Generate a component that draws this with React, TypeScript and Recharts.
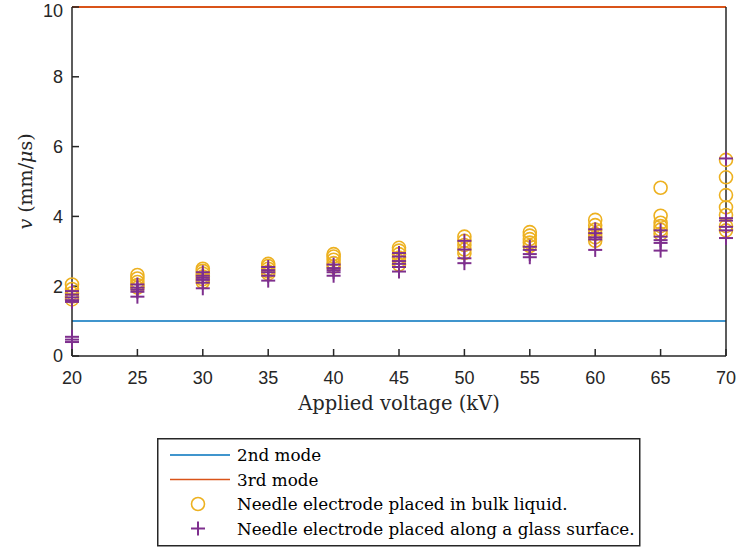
import {
  ComposedChart,
  Scatter,
  XAxis,
  YAxis,
  ReferenceLine,
  Legend,
  Label,
} from 'recharts'

// streamer velocity (mm/us) recorded at each applied voltage (kV)
const voltages = [20, 25, 30, 35, 40, 45, 50, 55, 60, 65, 70]

const bulkLiquid: number[][] = [
  [2.05, 1.92, 1.8, 1.7, 1.62],
  [2.32, 2.22, 2.12, 2.03, 1.96],
  [2.5, 2.44, 2.36, 2.28, 2.2, 2.12],
  [2.64, 2.58, 2.5, 2.42, 2.36],
  [2.92, 2.85, 2.76, 2.66, 2.56],
  [3.1, 3.02, 2.92, 2.82, 2.72, 2.62],
  [3.42, 3.3, 3.18, 3.05, 2.95],
  [3.55, 3.45, 3.35, 3.25, 3.15],
  [3.9, 3.75, 3.62, 3.5, 3.4, 3.3],
  [4.82, 4.02, 3.82, 3.72, 3.62, 3.5],
  [5.62, 5.12, 4.61, 4.26, 4.04, 3.72, 3.6],
]

const glassSurface: number[][] = [
  [1.86, 1.76, 1.68, 1.6, 1.55, 0.55, 0.47, 0.4],
  [2.05, 1.96, 1.9, 1.84, 1.7],
  [2.4, 2.3, 2.24, 2.18, 2.1, 1.94],
  [2.55, 2.46, 2.4, 2.3, 2.16],
  [2.62, 2.52, 2.46, 2.4, 2.3],
  [2.95, 2.85, 2.72, 2.64, 2.55, 2.42],
  [3.3, 3.05, 2.8, 2.66],
  [3.13, 3.04, 2.92, 2.83],
  [3.63, 3.52, 3.4, 3.34, 3.04],
  [3.6, 3.42, 3.32, 3.24, 3.02],
  [5.66, 3.95, 3.88, 3.7, 3.6, 3.38],
]

const secondMode = 1
const thirdMode = 10

const xTicks = [20, 25, 30, 35, 40, 45, 50, 55, 60, 65, 70]
const yTicks = [0, 2, 4, 6, 8, 10]

const AXIS = '#262626'
const BLUE = '#0072BD'
const ORANGE = '#D95319'
const YELLOW = '#EDB120'
const PURPLE = '#7E2F8E'
const SERIF = '"DejaVu Serif", serif'
const SANS = '"Liberation Sans", Arial, sans-serif'

const toPoints = (rows: number[][]) =>
  rows.flatMap((vals, i) => vals.map((v) => ({ x: voltages[i], y: v })))

const liquidPoints = toPoints(bulkLiquid)
const glassPoints = toPoints(glassSurface)

const CircleMark = (p: any) => (
  <circle cx={p.cx} cy={p.cy} r={6.5} fill="none" stroke={YELLOW} strokeWidth={1.6} />
)

const PlusMark = (p: any) => (
  <g stroke={PURPLE} strokeWidth={2}>
    <line x1={p.cx - 7} y1={p.cy} x2={p.cx + 7} y2={p.cy} />
    <line x1={p.cx} y1={p.cy - 7} x2={p.cx} y2={p.cy + 7} />
  </g>
)

const YAxisTitle = (props: any) => {
  const { viewBox } = props
  const cy = viewBox.y + viewBox.height / 2
  return (
    <text
      x={25}
      y={cy}
      transform={`rotate(-90, 25, ${cy})`}
      textAnchor="middle"
      dominantBaseline="central"
      fontFamily={SERIF}
      fontSize={19}
      fill={AXIS}
    >
      <tspan fontStyle="italic">v</tspan> (mm/<tspan fontStyle="italic">μ</tspan>s)
    </text>
  )
}

const legendRows = [
  { kind: 'line', color: BLUE, text: '2nd mode' },
  { kind: 'line', color: ORANGE, text: '3rd mode' },
  { kind: 'circle', color: YELLOW, text: 'Needle electrode placed in bulk liquid.' },
  { kind: 'plus', color: PURPLE, text: 'Needle electrode placed along a glass surface.' },
]

const LegendBox = () => (
  <svg width={484} height={109} style={{ display: 'block' }}>
    <rect x={0.75} y={0.75} width={482} height={107} fill="#fff" stroke={AXIS} strokeWidth={1.5} />
    {legendRows.map((r, i) => {
      const y = 17 + i * 24.5
      return (
        <g key={r.text}>
          {r.kind === 'line' && (
            <line x1={13} y1={y} x2={73} y2={y} stroke={r.color} strokeWidth={1.5} />
          )}
          {r.kind === 'circle' && (
            <circle cx={41} cy={y} r={6.5} fill="none" stroke={r.color} strokeWidth={1.6} />
          )}
          {r.kind === 'plus' && (
            <g stroke={r.color} strokeWidth={2}>
              <line x1={34} y1={y} x2={48} y2={y} />
              <line x1={41} y1={y - 7} x2={41} y2={y + 7} />
            </g>
          )}
          <text x={80} y={y} dominantBaseline="central" fontFamily={SERIF} fontSize={16.8} fill="#000">
            {r.text}
          </text>
        </g>
      )
    })}
  </svg>
)

export default function App() {
  return (
    <div style={{ position: 'absolute', left: 0, top: 0, background: '#fff' }}>
      <ComposedChart
        width={738}
        height={550}
        margin={{ top: 7, right: 12, bottom: 134, left: 0 }}
      >
        <XAxis
          dataKey="x"
          type="number"
          domain={[20, 70]}
          ticks={xTicks}
          height={60}
          stroke={AXIS}
          strokeWidth={1.5}
          tickSize={-7}
          tickMargin={22}
          tick={{ fill: AXIS, fontSize: 18, fontFamily: SANS }}
        >
          <Label
            value="Applied voltage (kV)"
            position="insideBottom"
            offset={6}
            style={{ fontFamily: SERIF, fontSize: 19.5, fill: AXIS }}
          />
        </XAxis>
        <XAxis
          xAxisId="top"
          orientation="top"
          type="number"
          domain={[20, 70]}
          ticks={xTicks}
          mirror
          axisLine={false}
          stroke={AXIS}
          strokeWidth={1.5}
          tickSize={7}
          tick={false}
        />
        <YAxis
          dataKey="y"
          type="number"
          domain={[0, 10]}
          ticks={yTicks}
          width={72}
          stroke={AXIS}
          strokeWidth={1.5}
          tickSize={-7}
          tickMargin={16}
          tick={{ fill: AXIS, fontSize: 18, fontFamily: SANS }}
        >
          <Label content={YAxisTitle} />
        </YAxis>
        <YAxis
          yAxisId="right"
          orientation="right"
          type="number"
          domain={[0, 10]}
          ticks={yTicks}
          mirror
          stroke={AXIS}
          strokeWidth={1.5}
          tickSize={7}
          tick={false}
        />
        <ReferenceLine y={secondMode} stroke={BLUE} strokeWidth={1.5} />
        <Scatter
          data={liquidPoints}
          shape={CircleMark}
          isAnimationActive={false}
        />
        <Scatter
          data={glassPoints}
          shape={PlusMark}
          isAnimationActive={false}
        />
        <ReferenceLine y={thirdMode} stroke={ORANGE} strokeWidth={2} />
        <Legend
          layout="horizontal"
          verticalAlign="middle"
          align="center"
          content={LegendBox}
          wrapperStyle={{ left: 157, top: 438, width: 484, height: 109 }}
        />
      </ComposedChart>
    </div>
  )
}
